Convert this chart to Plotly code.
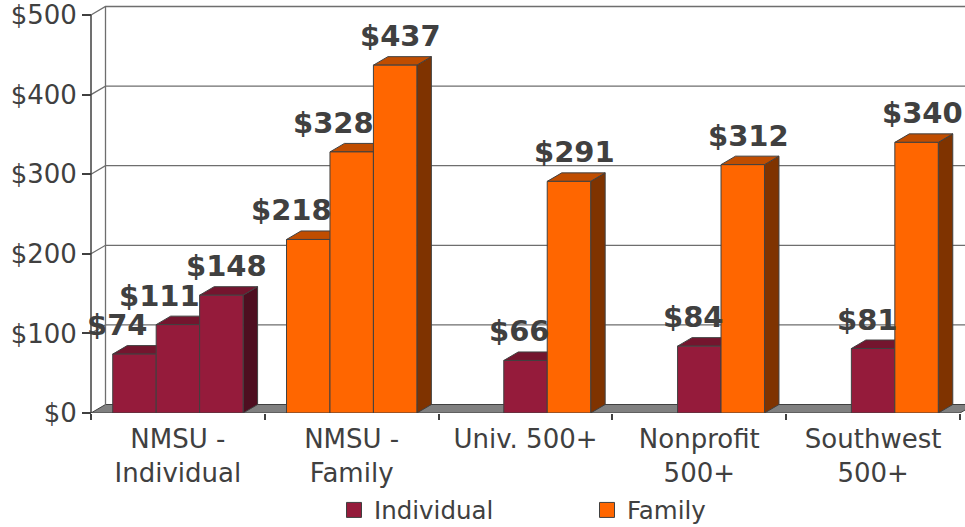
import plotly.graph_objects as go

# ---------------- data ----------------
categories = ["NMSU -<br>Individual", "NMSU -<br>Family", "Univ. 500+",
              "Nonprofit<br>500+", "Southwest<br>500+"]
nmsu_individual = [74, 111, 148]      # three NMSU individual bars
nmsu_family = [218, 328, 437]         # three NMSU family bars
bench_individual = [66, 84, 81]       # Univ. 500+, Nonprofit 500+, Southwest 500+
bench_family = [291, 312, 340]
y_ticks = [0, 100, 200, 300, 400, 500]
y_tick_text = ["$0", "$100", "$200", "$300", "$400", "$500"]
series_names = ["Individual", "Family"]

# ---------------- style ----------------
RED, RED_TOP, RED_SIDE = "#951B3B", "#74152E", "#4E0E20"
ORG, ORG_TOP, ORG_SIDE = "#FF6600", "#C04D00", "#7F3300"
EDGE = "#404040"
GRID = "#6E6E6E"
TXT = "#404040"
FONT = "DejaVu Sans"

W, H = 965, 527
L, R, T, B = 80, 0, 3, 114
px_per_cat = 173.8
px_per_usd = 0.796
x_front = -0.5
x_lo = x_front - (91 - L) / px_per_cat
x_hi = x_lo + (W - L - R) / px_per_cat
y_hi = (H - T - B) / px_per_usd
DXU = 14.5 / px_per_cat
DYU = 8.5 / px_per_usd
BAR_W = 0.25
slot_off = [-0.375, -0.125, 0.125]
nmsu_label_dx = [-17, -18, 5]
bench_label_dx = [-6, 6]
LABEL_DY = 29

# ---------------- assemble bars ----------------
bars = []  # (cat_index, slot, value, series, label x-nudge)
for k, v in enumerate(nmsu_individual):
    bars.append((0, k, v, 0, nmsu_label_dx[k]))
for k, v in enumerate(nmsu_family):
    bars.append((1, k, v, 1, nmsu_label_dx[k]))
for i, v in enumerate(bench_individual):
    bars.append((2 + i, 1, v, 0, bench_label_dx[0]))
for i, v in enumerate(bench_family):
    bars.append((2 + i, 2, v, 1, bench_label_dx[1]))

front = [RED, ORG]
top_c = [RED_TOP, ORG_TOP]
side_c = [RED_SIDE, ORG_SIDE]

fig = go.Figure()

for s in range(2):
    sel = [b for b in bars if b[3] == s]
    fig.add_trace(go.Bar(
        x=[categories[b[0]] for b in sel],
        y=[b[2] for b in sel],
        offset=[slot_off[b[1]] for b in sel],
        width=BAR_W,
        marker=dict(color=front[s], line=dict(color=EDGE, width=1)),
        showlegend=False, hoverinfo="skip",
    ))

for s, nm in enumerate(series_names):
    fig.add_trace(go.Scatter(
        x=[None], y=[None], mode="markers", name=nm,
        marker=dict(symbol="square", size=15, color=front[s],
                    line=dict(color=EDGE, width=1)),
    ))

shapes = []
# back wall gridlines with left-wall diagonals
for v in y_ticks[1:]:
    shapes.append(dict(
        type="path", layer="below", xref="x", yref="y",
        path=f"M {x_front},{v} L {x_front + DXU},{v + DYU} L {x_hi + 1},{v + DYU}",
        line=dict(color=GRID, width=1.3)))
# floor
shapes.append(dict(
    type="path", layer="below", xref="x", yref="y",
    path=(f"M {x_front},0 L 4.5,0 L {4.5 + DXU},{DYU} "
          f"L {x_front + DXU},{DYU} Z"),
    fillcolor="#808080", line=dict(color=EDGE, width=1)))
# left wall back edge and front axis line
shapes.append(dict(type="line", layer="below", xref="x", yref="y",
                   x0=x_front + DXU, x1=x_front + DXU, y0=DYU, y1=y_ticks[-1] + DYU,
                   line=dict(color=GRID, width=1.3)))
shapes.append(dict(type="line", layer="below", xref="x", yref="y",
                   x0=x_front, x1=x_front, y0=0, y1=y_ticks[-1],
                   line=dict(color=EDGE, width=1.5)))
# 3D faces of the bars
for ci, slot, v, s, _ in bars:
    xl = ci + slot_off[slot]
    xr = xl + BAR_W
    shapes.append(dict(
        type="path", layer="below", xref="x", yref="y",
        path=f"M {xr},0 L {xr},{v} L {xr + DXU},{v + DYU} L {xr + DXU},{DYU} Z",
        fillcolor=side_c[s], line=dict(color=EDGE, width=1)))
    shapes.append(dict(
        type="path", layer="below", xref="x", yref="y",
        path=f"M {xl},{v} L {xr},{v} L {xr + DXU},{v + DYU} L {xl + DXU},{v + DYU} Z",
        fillcolor=top_c[s], line=dict(color=EDGE, width=1)))

annotations = []
for ci, slot, v, s, dx in bars:
    annotations.append(dict(
        x=ci + slot_off[slot] + BAR_W / 2, y=v, xref="x", yref="y",
        text=f"${v}", showarrow=False, xshift=dx, yshift=LABEL_DY,
        xanchor="center", yanchor="middle",
        font=dict(family=FONT, size=29, color=TXT, weight="bold")))

fig.update_layout(
    width=W, height=H,
    margin=dict(l=L, r=R, t=T, b=B, pad=0, autoexpand=False),
    paper_bgcolor="white", plot_bgcolor="white",
    barmode="overlay",
    shapes=shapes, annotations=annotations,
    showlegend=True,
    legend=dict(orientation="h", x=(334 - L) / (W - L - R), xanchor="left",
                y=(413 - 510) / (H - T - B), yanchor="middle",
                font=dict(family=FONT, size=24.5, color=TXT),
                entrywidth=208, entrywidthmode="pixels",
                bgcolor="rgba(0,0,0,0)"),
    xaxis=dict(type="category", categoryorder="array", categoryarray=categories,
               range=[x_lo, x_hi], tickson="boundaries", ticks="outside",
               ticklen=6, tickwidth=1.5, tickcolor=EDGE, ticklabelstandoff=8,
               showgrid=False, zeroline=False, showline=False, automargin=False,
               tickfont=dict(family=FONT, size=26, color=TXT)),
    yaxis=dict(range=[0, y_hi], tickvals=y_ticks, ticktext=y_tick_text,
               ticks="outside", ticklen=9, tickwidth=1.5, tickcolor=EDGE,
               anchor="free", position=(91 - L) / (W - L - R),
               ticklabeloverflow="allow",
               showgrid=False, zeroline=False, showline=False, automargin=False,
               tickfont=dict(family=FONT, size=26, color=TXT)),
)

fig.write_html("out.html",
               config={"displayModeBar": False},
               post_script="document.body.style.margin='0px';")
